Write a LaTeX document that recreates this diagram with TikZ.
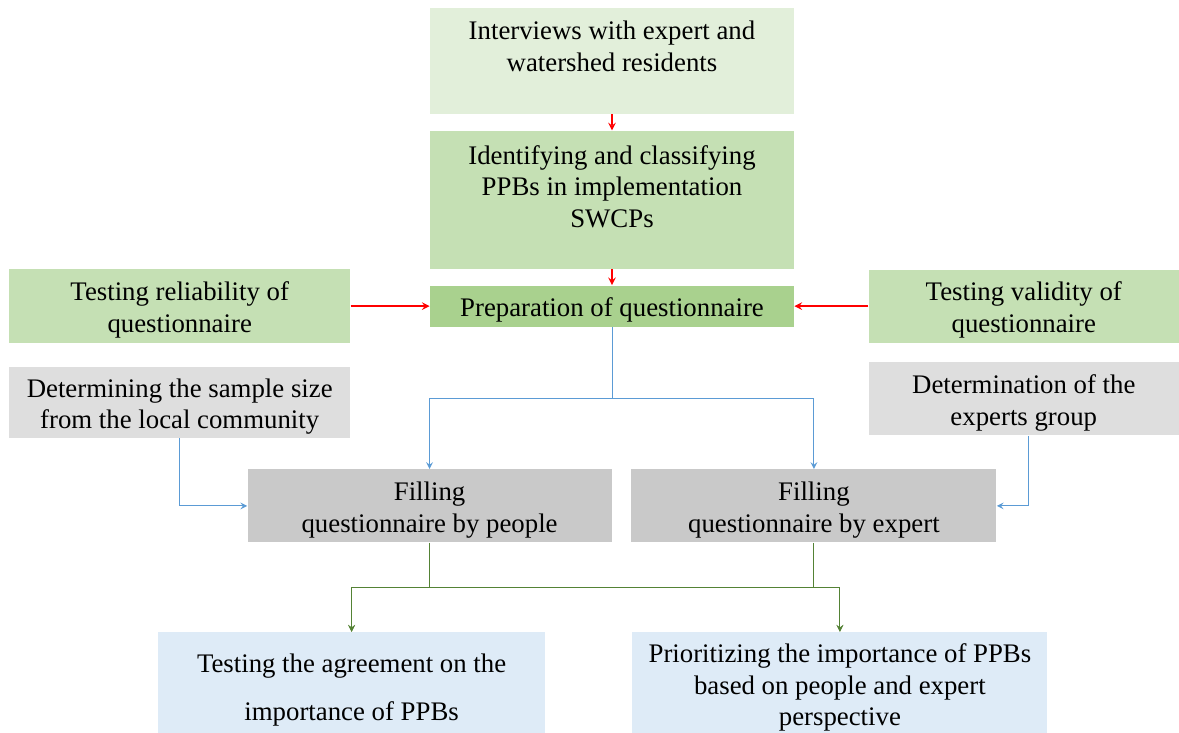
\documentclass[tikz,border=0pt]{standalone}
\usepackage{fontspec}
\setmainfont{Liberation Serif}
\usepackage{tikz}
\usetikzlibrary{positioning,arrows}
\definecolor{greenA}{HTML}{E2EFDA}
\definecolor{greenB}{HTML}{C5E0B4}
\definecolor{greenC}{HTML}{A9D18E}
\definecolor{grayA}{HTML}{DEDEDE}
\definecolor{grayB}{HTML}{C9C9C9}
\definecolor{blueA}{HTML}{DEEBF7}
\definecolor{lineblue}{HTML}{5B9BD5}
\definecolor{linegreen}{HTML}{548235}
\newcommand{\lift}{\rule{0pt}{13.5pt}}

\begin{document}
\begin{tikzpicture}[
stepbox/.style={rectangle, draw=none, inner sep=0pt, align=center, font=\fontsize{13.4}{15.75}\selectfont},
redarrow/.style={->, >=stealth, draw=red, line width=0.7pt},
bluearrow/.style={->, >=stealth, draw=lineblue, line width=0.5pt},
greenarrow/.style={->, >=stealth, draw=linegreen, line width=0.5pt}
]
    \useasboundingbox (0,0) rectangle (589.5pt,-366.5pt);

    %Nodes
    \node[stepbox, fill=greenA, minimum width=182pt, minimum height=53pt]
        (interview) at (306pt,-30.5pt) {\lift Interviews with expert and\\watershed residents\\[-1.25pt]\strut};
    \node[stepbox, fill=greenB, minimum width=182pt, minimum height=69pt]
        (identify)  [below=8pt of interview] {\lift Identifying and classifying\\PPBs in implementation\\SWCPs\\[-2.75pt]\strut};
    \node[stepbox, fill=greenC, minimum width=182pt, minimum height=20.5pt]
        (prep)      [below=8pt of identify]  {\lift Preparation of questionnaire};
    \node[stepbox, fill=greenB, minimum width=170.5pt, minimum height=37pt]
        (reliab)    [left=39.5pt of prep]    {\lift Testing reliability of\\questionnaire};
    \node[stepbox, fill=greenB, minimum width=155pt, minimum height=36.5pt]
        (valid)     [right=37pt of prep]     {\lift Testing validity of\\questionnaire};
    \node[stepbox, fill=grayA, minimum width=170.5pt, minimum height=35.5pt]
        (sample)    [below=11.5pt of reliab] {\lift Determining the sample size\\from the local community};
    \node[stepbox, fill=grayA, minimum width=155pt, minimum height=36.5pt]
        (experts)   [below=9.5pt of valid]   {\lift Determination of the\\experts group};
    \node[stepbox, fill=grayB, minimum width=182pt, minimum height=36.5pt]
        (fillP)     [below=71pt of prep.south west] {\lift Filling\\questionnaire by people};
    \node[stepbox, fill=grayB, minimum width=182.5pt, minimum height=36.5pt]
        (fillE)     [right=9.5pt of fillP]   {\lift Filling\\questionnaire by expert};
    \node[stepbox, fill=blueA, minimum width=193.5pt, minimum height=51.5pt]
        (agree)     [below=44.5pt of fillP, xshift=-39pt] {\rule{0pt}{15.5pt}Testing the agreement on the\\[8.25pt]importance of PPBs};
    \node[stepbox, fill=blueA, minimum width=207.5pt, minimum height=51.5pt]
        (prior)     [below=44.5pt of fillE, xshift=13pt]  {\lift Prioritizing the importance of PPBs\\based on people and expert\\perspective};

    %Lines
    \draw[redarrow] (interview.south) -- (identify.north);
    \draw[redarrow] (identify.south) -- (prep.north);
    \draw[redarrow] (reliab.east) -- (reliab.east -| prep.west);
    \draw[redarrow] (valid.west) -- (valid.west -| prep.east);
    \draw[bluearrow] (prep.south) -- ++(0,-35.5pt) -| (fillP.north);
    \draw[bluearrow] (prep.south) -- ++(0,-35.5pt) -| (fillE.north);
    \draw[bluearrow] (sample.south) |- (fillP.west);
    \draw[bluearrow] ([xshift=2.5pt]experts.south) |- (fillE.east);
    \draw[greenarrow] (fillP.south) -- ++(0,-22.5pt) -| (agree.north);
    \draw[greenarrow] (fillP.south) -- ++(0,-22.5pt) -| (prior.north);
    \draw[greenarrow] (fillE.south) -- ++(0,-22.5pt) -| (agree.north);
    \draw[greenarrow] (fillE.south) -- ++(0,-22.5pt) -| (prior.north);
\end{tikzpicture}
\end{document}
